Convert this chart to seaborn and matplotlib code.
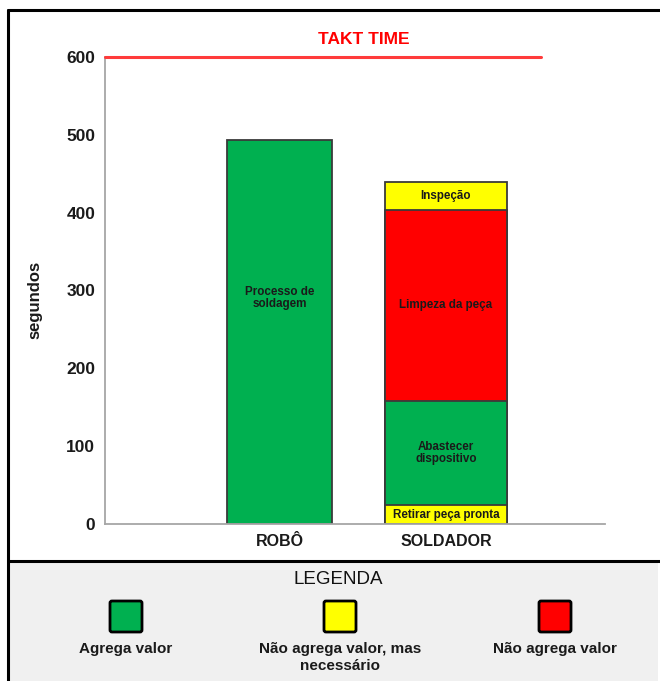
import matplotlib
matplotlib.use("Agg")
import matplotlib.pyplot as plt
from matplotlib.patches import Rectangle, FancyBboxPatch
from matplotlib.lines import Line2D
import pandas as pd
import seaborn as sns

# ---- data -------------------------------------------------------------
categorias = ["ROBÔ", "SOLDADOR"]

robo_etapas = ["Processo de\nsoldagem"]
robo_segundos = [493]
robo_classes = ["agrega"]

soldador_etapas = ["Retirar peça pronta", "Abastecer\ndispositivo",
                   "Limpeza da peça", "Inspeção"]
soldador_segundos = [24, 134, 246, 35]
soldador_classes = ["necessario", "agrega", "nao_agrega", "necessario"]

takt_time = 600
y_ticks = [0, 100, 200, 300, 400, 500, 600]

legenda_classes = ["agrega", "necessario", "nao_agrega"]
legenda_textos = ["Agrega valor", "Não agrega valor, mas\nnecessário", "Não agrega valor"]

# ---- style ------------------------------------------------------------
sns.set_theme(style="white")
plt.rcParams["font.family"] = ["Liberation Sans", "DejaVu Sans"]

cores = {"agrega": "#00b050", "necessario": "#ffff00", "nao_agrega": "#ff0000"}
borda = "#3a3a3a"
texto_escuro = "#1a1a1a"

W, H = 660, 681
fig = plt.figure(figsize=(W / 100, H / 100), dpi=100)

def fx(px):
    return px / W

def fy(py):
    return 1 - py / H

# legend band background and frame lines
fig.patches.append(Rectangle((fx(8), 0), fx(650), fy(561), transform=fig.transFigure,
                             facecolor="#f0f0f0", edgecolor="none", zorder=0))
for (x0, y0, x1, y1) in [(8, 10, 660, 10), (8, 10, 8, 681), (8, 561, 660, 561)]:
    fig.lines.append(Line2D([fx(x0), fx(x1)], [fy(y0), fy(y1)], transform=fig.transFigure,
                            color="black", lw=2.2, zorder=1))

# ---- main chart ---------------------------------------------------------
ax = fig.add_axes([fx(105), fy(524), fx(500), fy(57) - fy(524)])
ax.set_facecolor("none")

df = pd.DataFrame({
    "categoria": ["ROBÔ"] * len(robo_etapas) + ["SOLDADOR"] * len(soldador_etapas),
    "etapa": robo_etapas + soldador_etapas,
    "segundos": robo_segundos + soldador_segundos,
    "classe": robo_classes + soldador_classes,
})
df["topo"] = df.groupby("categoria")["segundos"].cumsum()
df["base"] = df["topo"] - df["segundos"]

larguras = {"ROBÔ": 0.634, "SOLDADOR": 0.731}

# stacked bars: draw cumulative heights from the top segment downwards
for cat, grupo in df.groupby("categoria", sort=False):
    for _, linha in grupo.iloc[::-1].iterrows():
        sns.barplot(x=[cat], y=[linha["topo"]], order=categorias, ax=ax,
                    color=cores[linha["classe"]], saturation=1, width=larguras[cat],
                    edgecolor=borda, linewidth=1.3, errorbar=None)

# segment labels
for _, linha in df.iterrows():
    xi = categorias.index(linha["categoria"])
    yc = linha["base"] + linha["segundos"] / 2
    if linha["categoria"] == "ROBÔ":
        yc = linha["base"] + linha["segundos"] * 0.59
    ax.text(xi, yc, linha["etapa"], ha="center", va="center", fontsize=8.4,
            fontweight="bold", color=texto_escuro, linespacing=1.0)

ax.set_xlim(-1.048, 1.955)
ax.set_ylim(0, takt_time)
ax.set_yticks(y_ticks)
ax.set_yticklabels([str(v) for v in y_ticks], fontsize=12.5, fontweight="bold")
ax.set_xticks(range(len(categorias)))
ax.set_xticklabels(categorias, fontsize=11.5, fontweight="bold")
ax.tick_params(axis="both", length=0, colors=texto_escuro)
ax.tick_params(axis="y", pad=7)
ax.tick_params(axis="x", pad=7)
ax.set_xlabel("")
ax.set_ylabel("segundos", fontsize=12, fontweight="bold", color=texto_escuro)
ax.yaxis.set_label_coords(-0.125, 0.48)

for lado in ["top", "right"]:
    ax.spines[lado].set_visible(False)
for lado in ["left", "bottom"]:
    ax.spines[lado].set_color("#a6a6a6")
    ax.spines[lado].set_linewidth(1.3)

# takt time reference line
ax.axhline(takt_time, xmin=0, xmax=0.872, color="#ff3b3b", lw=2.2, clip_on=False, zorder=5)
fig.text(fx(364), fy(40), "TAKT TIME", ha="center", va="center", color="#ff0000",
         fontsize=12.5, fontweight="bold")

# ---- legend band -------------------------------------------------------
fig.text(fx(338), fy(579), "LEGENDA", ha="center", va="center", fontsize=13.5,
         color="#111111")
centros = [126, 340, 555]
for cx, classe, texto in zip(centros, legenda_classes, legenda_textos):
    fig.patches.append(FancyBboxPatch((fx(cx - 16), fy(632)), fx(32), fy(601) - fy(632),
                                      boxstyle="round,pad=0,rounding_size=0.003",
                                      transform=fig.transFigure, facecolor=cores[classe],
                                      edgecolor="black", linewidth=2, zorder=2))
    fig.text(fx(cx), fy(642), texto, ha="center", va="top", fontsize=11, fontweight="bold",
             color=texto_escuro, linespacing=1.3)

fig.savefig("out.png", dpi=100)
